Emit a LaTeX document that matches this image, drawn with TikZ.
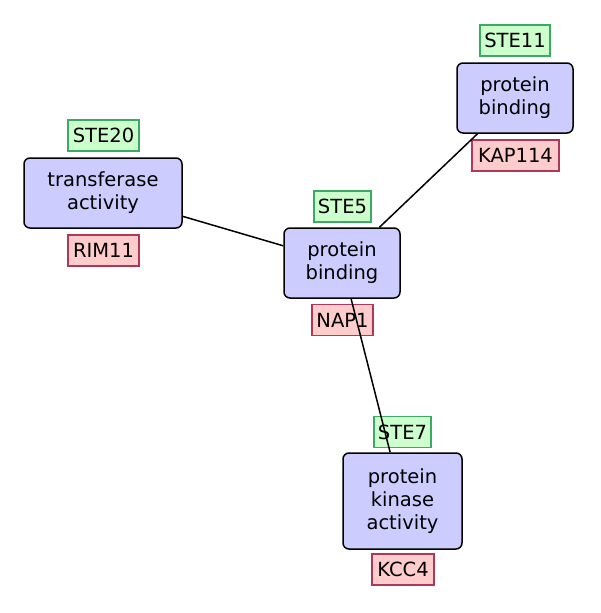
\documentclass[tikz,border=0pt]{standalone}
\usepackage{fontspec}
\setmainfont{DejaVu Sans}
\definecolor{nodefill}{RGB}{204,204,255}
\definecolor{gfill}{RGB}{204,255,204}
\definecolor{gdraw}{RGB}{60,170,100}
\definecolor{rfill}{RGB}{255,204,204}
\definecolor{rdraw}{RGB}{175,55,90}
\tikzset{
  term/.style={draw=black, fill=nodefill, line width=1.5pt, rounded corners=6pt,
    align=center, font=\fontsize{19.5}{23}\selectfont, inner sep=0pt},
  lab/.style={line width=1.3pt, minimum height=31pt,
    inner xsep=0pt, inner ysep=0pt, font=\fontsize{19.5}{23}\selectfont},
  glab/.style={lab, draw=gdraw, fill=gfill},
  rlab/.style={lab, draw=rdraw, fill=rfill},
  edge/.style={draw=black, line width=1.5pt}
}
\begin{document}
\begin{tikzpicture}[x=1pt,y=-1pt]
\useasboundingbox (0,0) rectangle (600,613);
% main nodes
\node[term, minimum width=116pt, minimum height=70pt] (c) at (342,263) {protein\\binding};
\node[term, minimum width=158pt, minimum height=70pt] (l) at (103,193) {transferase\\activity};
\node[term, minimum width=116pt, minimum height=70pt] (t) at (515,98) {protein\\binding};
\node[term, minimum width=119pt, minimum height=96pt] (b) at (402.5,501) {protein\\kinase\\activity};
% labels
\node[glab, minimum width=57pt] (cg) at (342.5,206.5) {STE5};
\node[rlab, minimum width=61pt] (cr) at (342.5,320) {NAP1};
\node[glab, minimum width=71pt] (lg) at (103.5,135.5) {STE20};
\node[rlab, minimum width=71pt] (lr) at (103.5,250.5) {RIM11};
\node[glab, minimum width=70pt] (tg) at (515,40.5) {STE11};
\node[rlab, minimum width=87pt] (tr) at (515.5,155.5) {KAP114};
\node[glab, minimum width=57pt] (bg) at (402.5,432) {STE7};
\node[rlab, minimum width=62pt] (br) at (403,569.5) {KCC4};
% edges
\draw[edge] (c) -- (l);
\draw[edge] (c) -- (t);
\draw[edge] (c) -- (b);
\end{tikzpicture}
\end{document}
